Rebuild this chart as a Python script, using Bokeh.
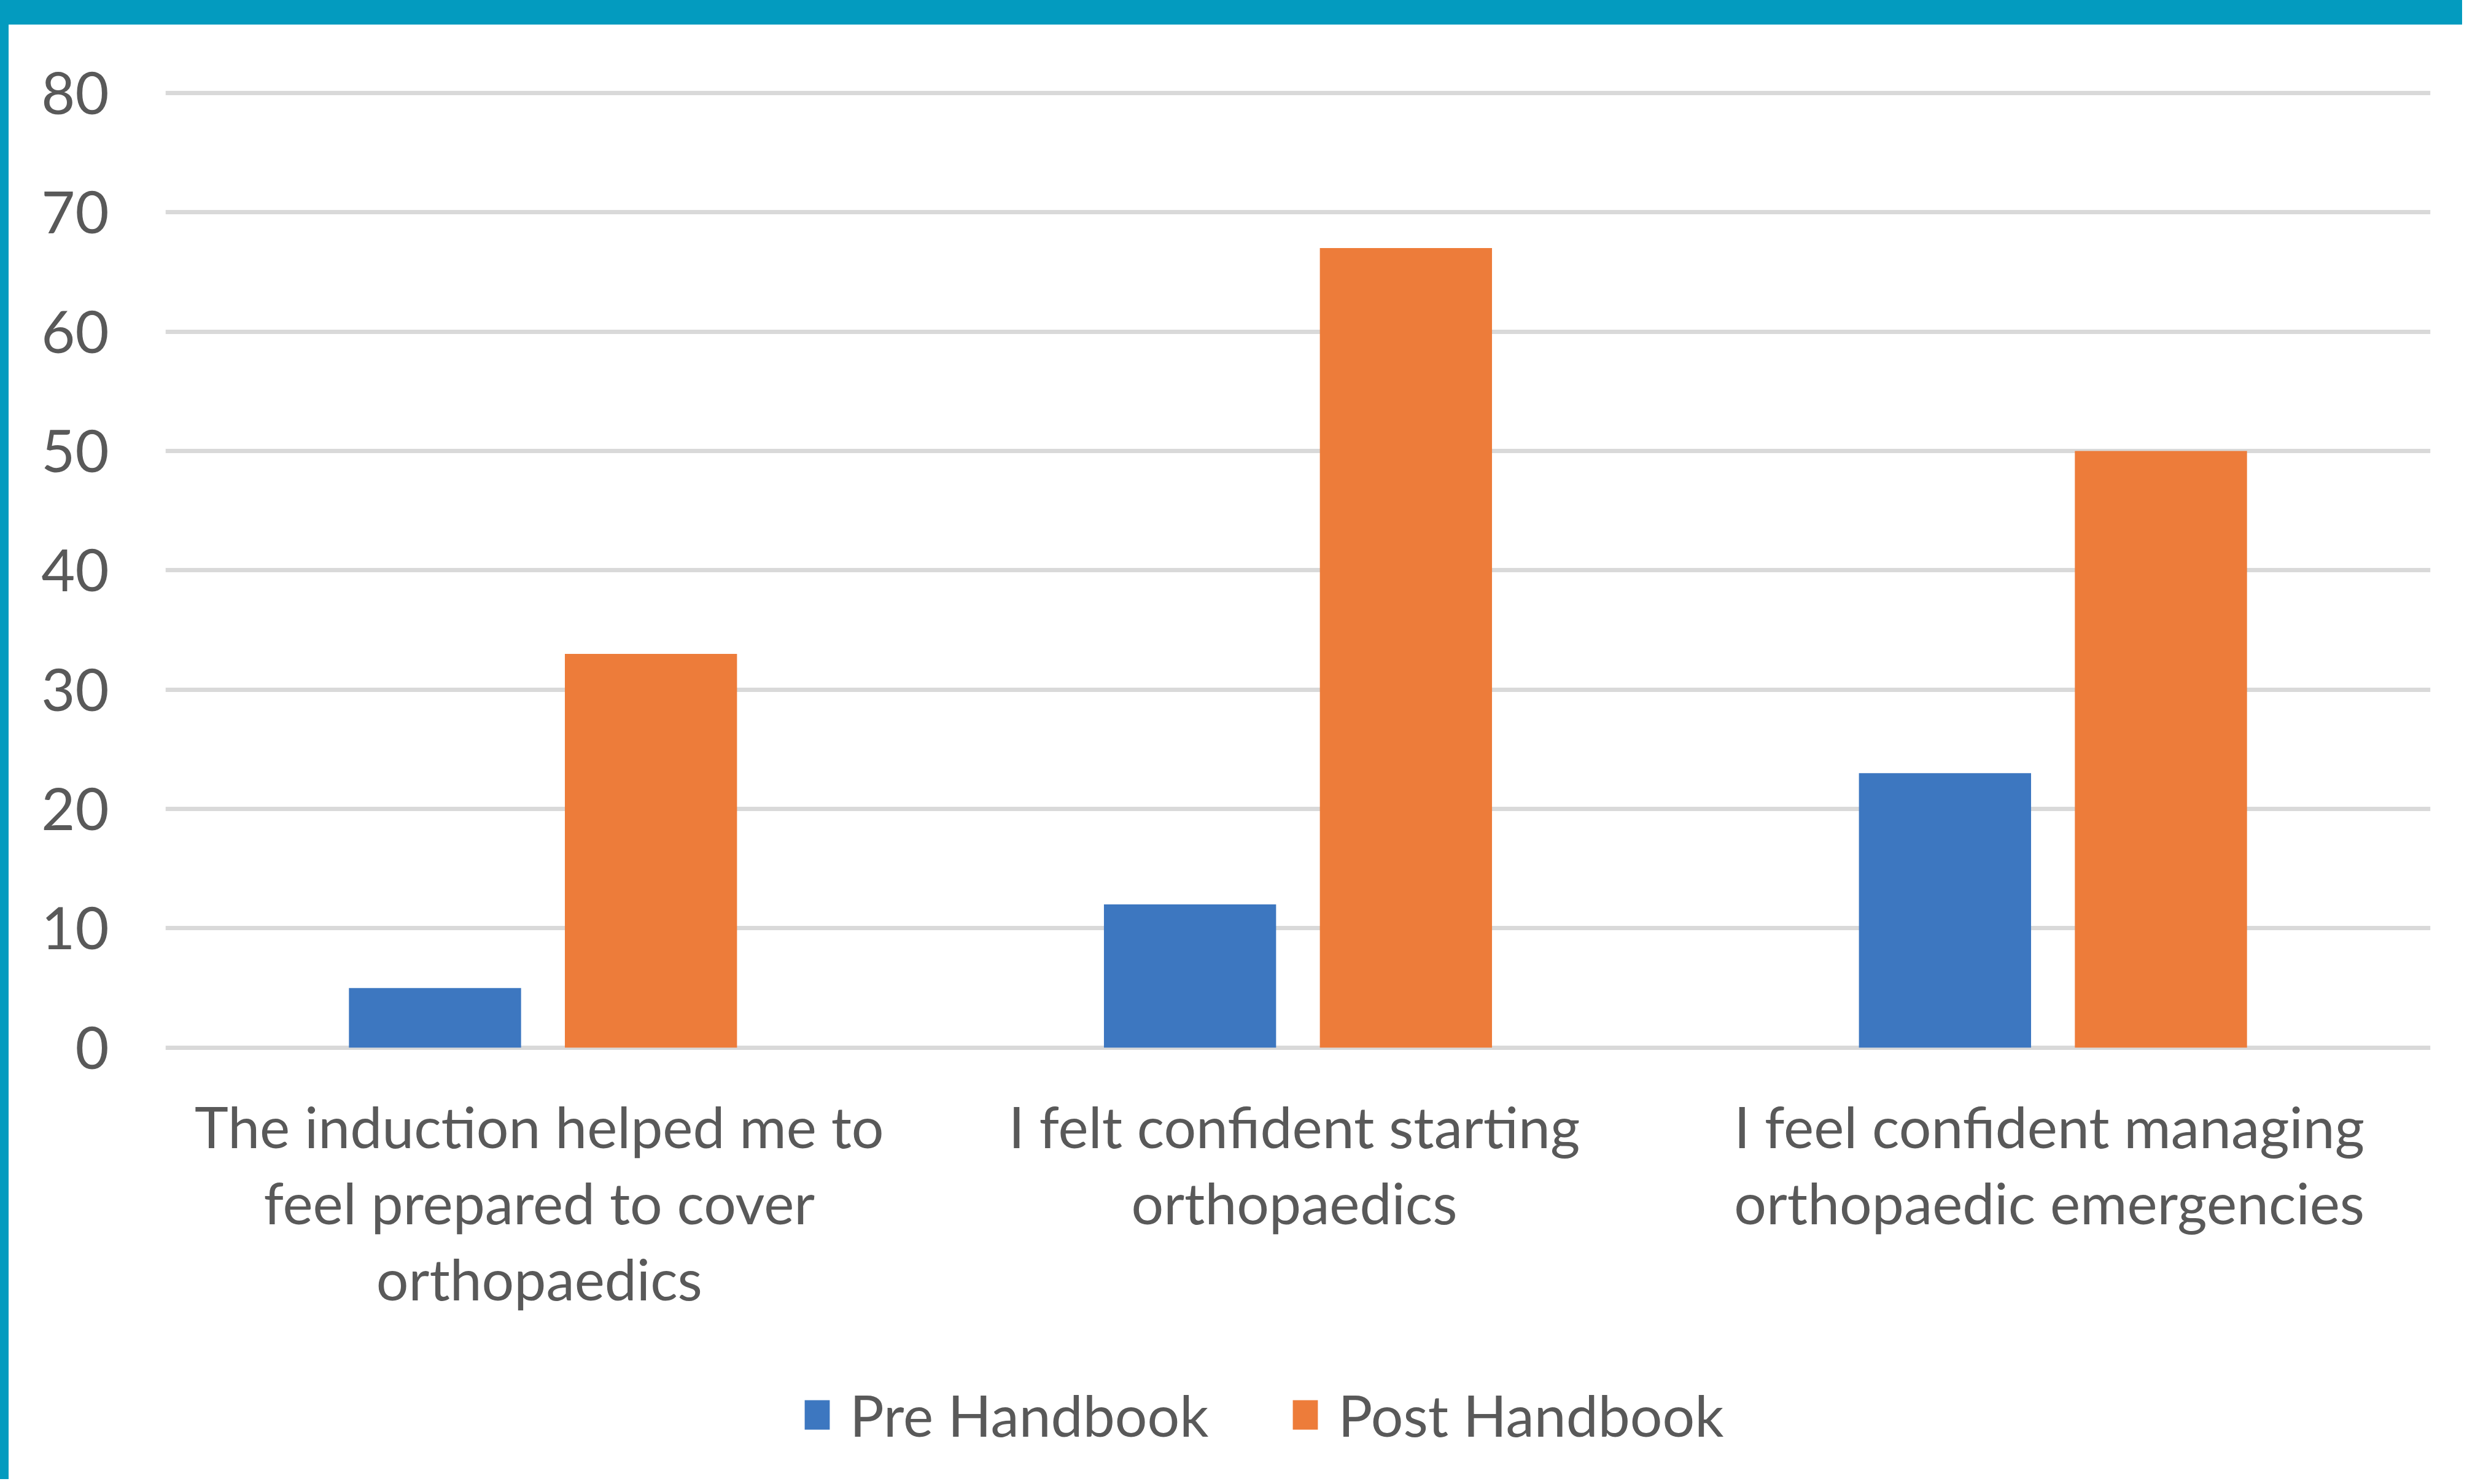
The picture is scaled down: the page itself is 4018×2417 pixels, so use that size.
from bokeh.plotting import figure
from bokeh.models import (ColumnDataSource, FactorRange, Range1d, FixedTicker,
                          Legend, LegendItem, Div)
from bokeh.core.properties import value
from bokeh.layouts import column, row
from bokeh.transform import dodge
from bokeh.embed import file_html
from bokeh.resources import INLINE

categories = [
    "The induction helped me to\nfeel prepared to cover\northopaedics",
    "I felt confident starting\northopaedics",
    "I feel confident managing\northopaedic emergencies",
]
pre_handbook = [5, 12, 23]
post_handbook = [33, 67, 50]
y_ticks = [0, 10, 20, 30, 40, 50, 60, 70, 80]
series_names = ["Pre Handbook", "Post Handbook"]

BLUE = "#3D77C0"
ORANGE = "#ED7C3A"
TEAL = "#039BBF"
TEXT = "#595959"
GRID = "#D9D9D9"
FONT = "Lato"

# layout (pixels)
BAND_TOP, BAND_LEFT = 48, 22
FIG_W, FIG_H = 3996, 2369
TOP, LEFT, RIGHT = 106, 255, 52
PX_PER_UNIT = 1555 / 80.0
Y_TOP = 80.25
Y_BOTTOM = Y_TOP - (FIG_H - TOP) / PX_PER_UNIT   # frame extends down to hold labels + legend

lines = [c.split("\n") for c in categories]
n_lines = max(len(l) for l in lines)
data = dict(cat=categories, pre=pre_handbook, post=post_handbook,
            zero=[0] * len(categories))
for i in range(n_lines):
    data[f"line{i}"] = [l[i] if i < len(l) else "" for l in lines]
source = ColumnDataSource(data)

p = figure(
    x_range=FactorRange(*categories),
    y_range=Range1d(Y_BOTTOM, Y_TOP),
    width=FIG_W, height=FIG_H,
    output_backend="svg", toolbar_location=None,
    min_border_left=LEFT, min_border_right=RIGHT,
    min_border_top=TOP, min_border_bottom=0,
)
p.outline_line_color = None
p.background_fill_color = "white"
p.border_fill_color = "white"

r_pre = p.vbar(x=dodge("cat", -0.143, range=p.x_range), top="pre", bottom=0,
               width=0.228, source=source, fill_color=BLUE, line_color=None)
r_post = p.vbar(x=dodge("cat", 0.143, range=p.x_range), top="post", bottom=0,
                width=0.228, source=source, fill_color=ORANGE, line_color=None)

p.xaxis.visible = False
p.xgrid.grid_line_color = None
p.ygrid.grid_line_color = GRID
p.ygrid.grid_line_width = 7

yax = p.yaxis[0]
yax.ticker = FixedTicker(ticks=y_ticks)
yax.axis_line_color = None
yax.major_tick_line_color = None
yax.minor_tick_line_color = None
yax.major_tick_out = 0
yax.major_tick_in = 0
yax.major_label_text_color = TEXT
yax.major_label_text_font = FONT
yax.major_label_text_font_size = "95px"
yax.major_label_standoff = 92

# category labels, one text row per line, placed below the zero line
for i in range(n_lines):
    p.text(x="cat", y="zero", text=f"line{i}", source=source,
           x_offset=-6, y_offset=128 + 124 * i,
           text_align="center", text_baseline="alphabetic",
           text_font=value(FONT), text_font_size="93px", text_color=TEXT)

legend = Legend(
    items=[LegendItem(label=series_names[0], renderers=[r_pre]),
           LegendItem(label=series_names[1], renderers=[r_post])],
    orientation="horizontal",
    location=(1036, 49),
    glyph_width=51, glyph_height=60, label_height=60,
    label_standoff=28, spacing=132, padding=0, margin=0,
    label_text_font=FONT, label_text_font_size="93px", label_text_color=TEXT,
    border_line_color=None, background_fill_alpha=0,
)
p.add_layout(legend, "center")

top_band = Div(text="", width=FIG_W + BAND_LEFT, height=BAND_TOP, margin=(0, 0, 0, 0),
               styles={"background-color": TEAL})
left_band = Div(text="", width=BAND_LEFT, height=FIG_H, margin=(0, 0, 0, 0),
                styles={"background-color": TEAL})

# pull the whole page block over the 8px body margin so the bands touch the edges
layout = column(top_band, row(left_band, p, spacing=0), spacing=0,
                margin=(-8, 0, 0, -8))

open("out.html", "w").write(file_html(layout, INLINE))
